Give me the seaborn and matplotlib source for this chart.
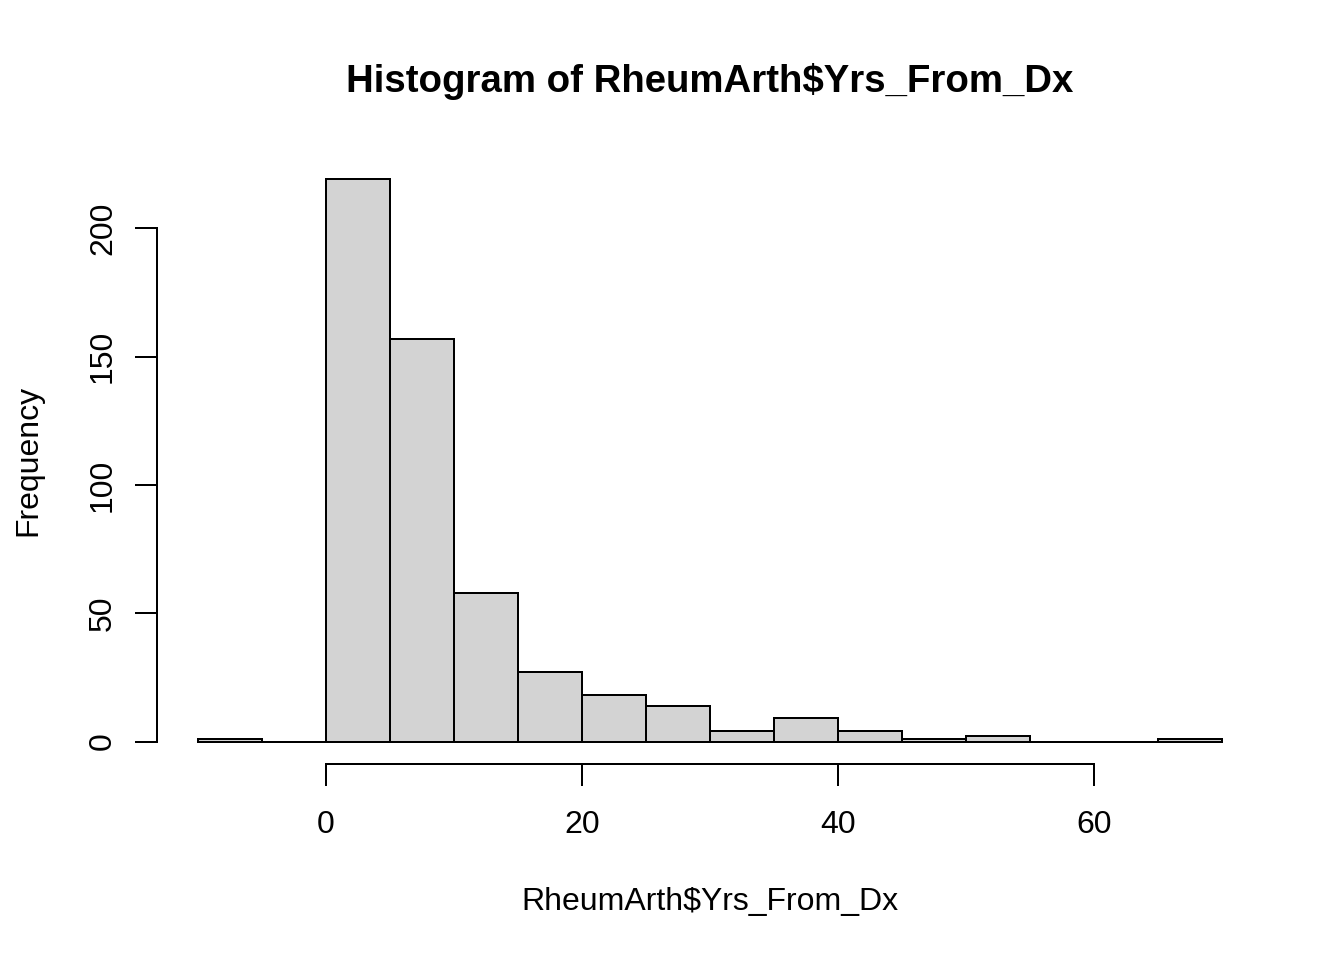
import numpy as np
import matplotlib
matplotlib.use("Agg")
import matplotlib.pyplot as plt
import seaborn as sns

# Data (bin width 5)
bin_edges = [-10, -5, 0, 5, 10, 15, 20, 25, 30, 35, 40, 45, 50, 55, 60, 65, 70]
counts = [1, 0, 219, 157, 58, 27, 18, 14, 4, 9, 4, 1, 2, 0, 0, 1]
x_ticks = [0, 20, 40, 60]
y_ticks = [0, 50, 100, 150, 200]

sns.set_style("white")
plt.rcParams['font.family'] = ['Liberation Sans', 'DejaVu Sans']
plt.rcParams['text.color'] = 'black'
plt.rcParams['axes.labelcolor'] = 'black'

fig = plt.figure(figsize=(13.44, 9.6), dpi=100)
ax = fig.add_axes([157/1344, 1-764/960, (1263-157)/1344, (764-157)/960])

centers = [(bin_edges[i] + bin_edges[i+1]) / 2 for i in range(len(counts))]
sns.histplot(x=centers, weights=counts, bins=bin_edges, ax=ax,
             color="#D3D3D3", edgecolor="black", linewidth=1.44, alpha=1)

ax.set_xlim(-13.2, 73.2)
ax.set_ylim(-8.76, 227.76)

for s in ["top", "right"]:
    ax.spines[s].set_visible(False)
for s in ["left", "bottom"]:
    ax.spines[s].set_linewidth(1.44)
    ax.spines[s].set_color("black")
ax.spines["left"].set_bounds(0, 200)
ax.spines["bottom"].set_bounds(0, 60)

ax.set_xticks(x_ticks)
ax.set_yticks(y_ticks)
ax.set_yticklabels([str(v) for v in y_ticks], rotation=90, va="center")
ax.tick_params(axis="both", direction="out", length=16, width=1.44,
               labelsize=23, color="black", labelcolor="black",
               bottom=True, left=True)
ax.tick_params(axis="x", pad=17)
ax.tick_params(axis="y", pad=12)
ax.grid(False)

ax.set_xlabel("RheumArth$Yrs_From_Dx", fontsize=23, labelpad=34, color="black")
ax.set_ylabel("Frequency", fontsize=23, labelpad=32, color="black")
fig.text(710/1344, 1-82/960, "Histogram of RheumArth$Yrs_From_Dx",
         ha="center", va="center", fontsize=27.6, fontweight="bold", color="black")

fig.savefig("out.png", dpi=100)
